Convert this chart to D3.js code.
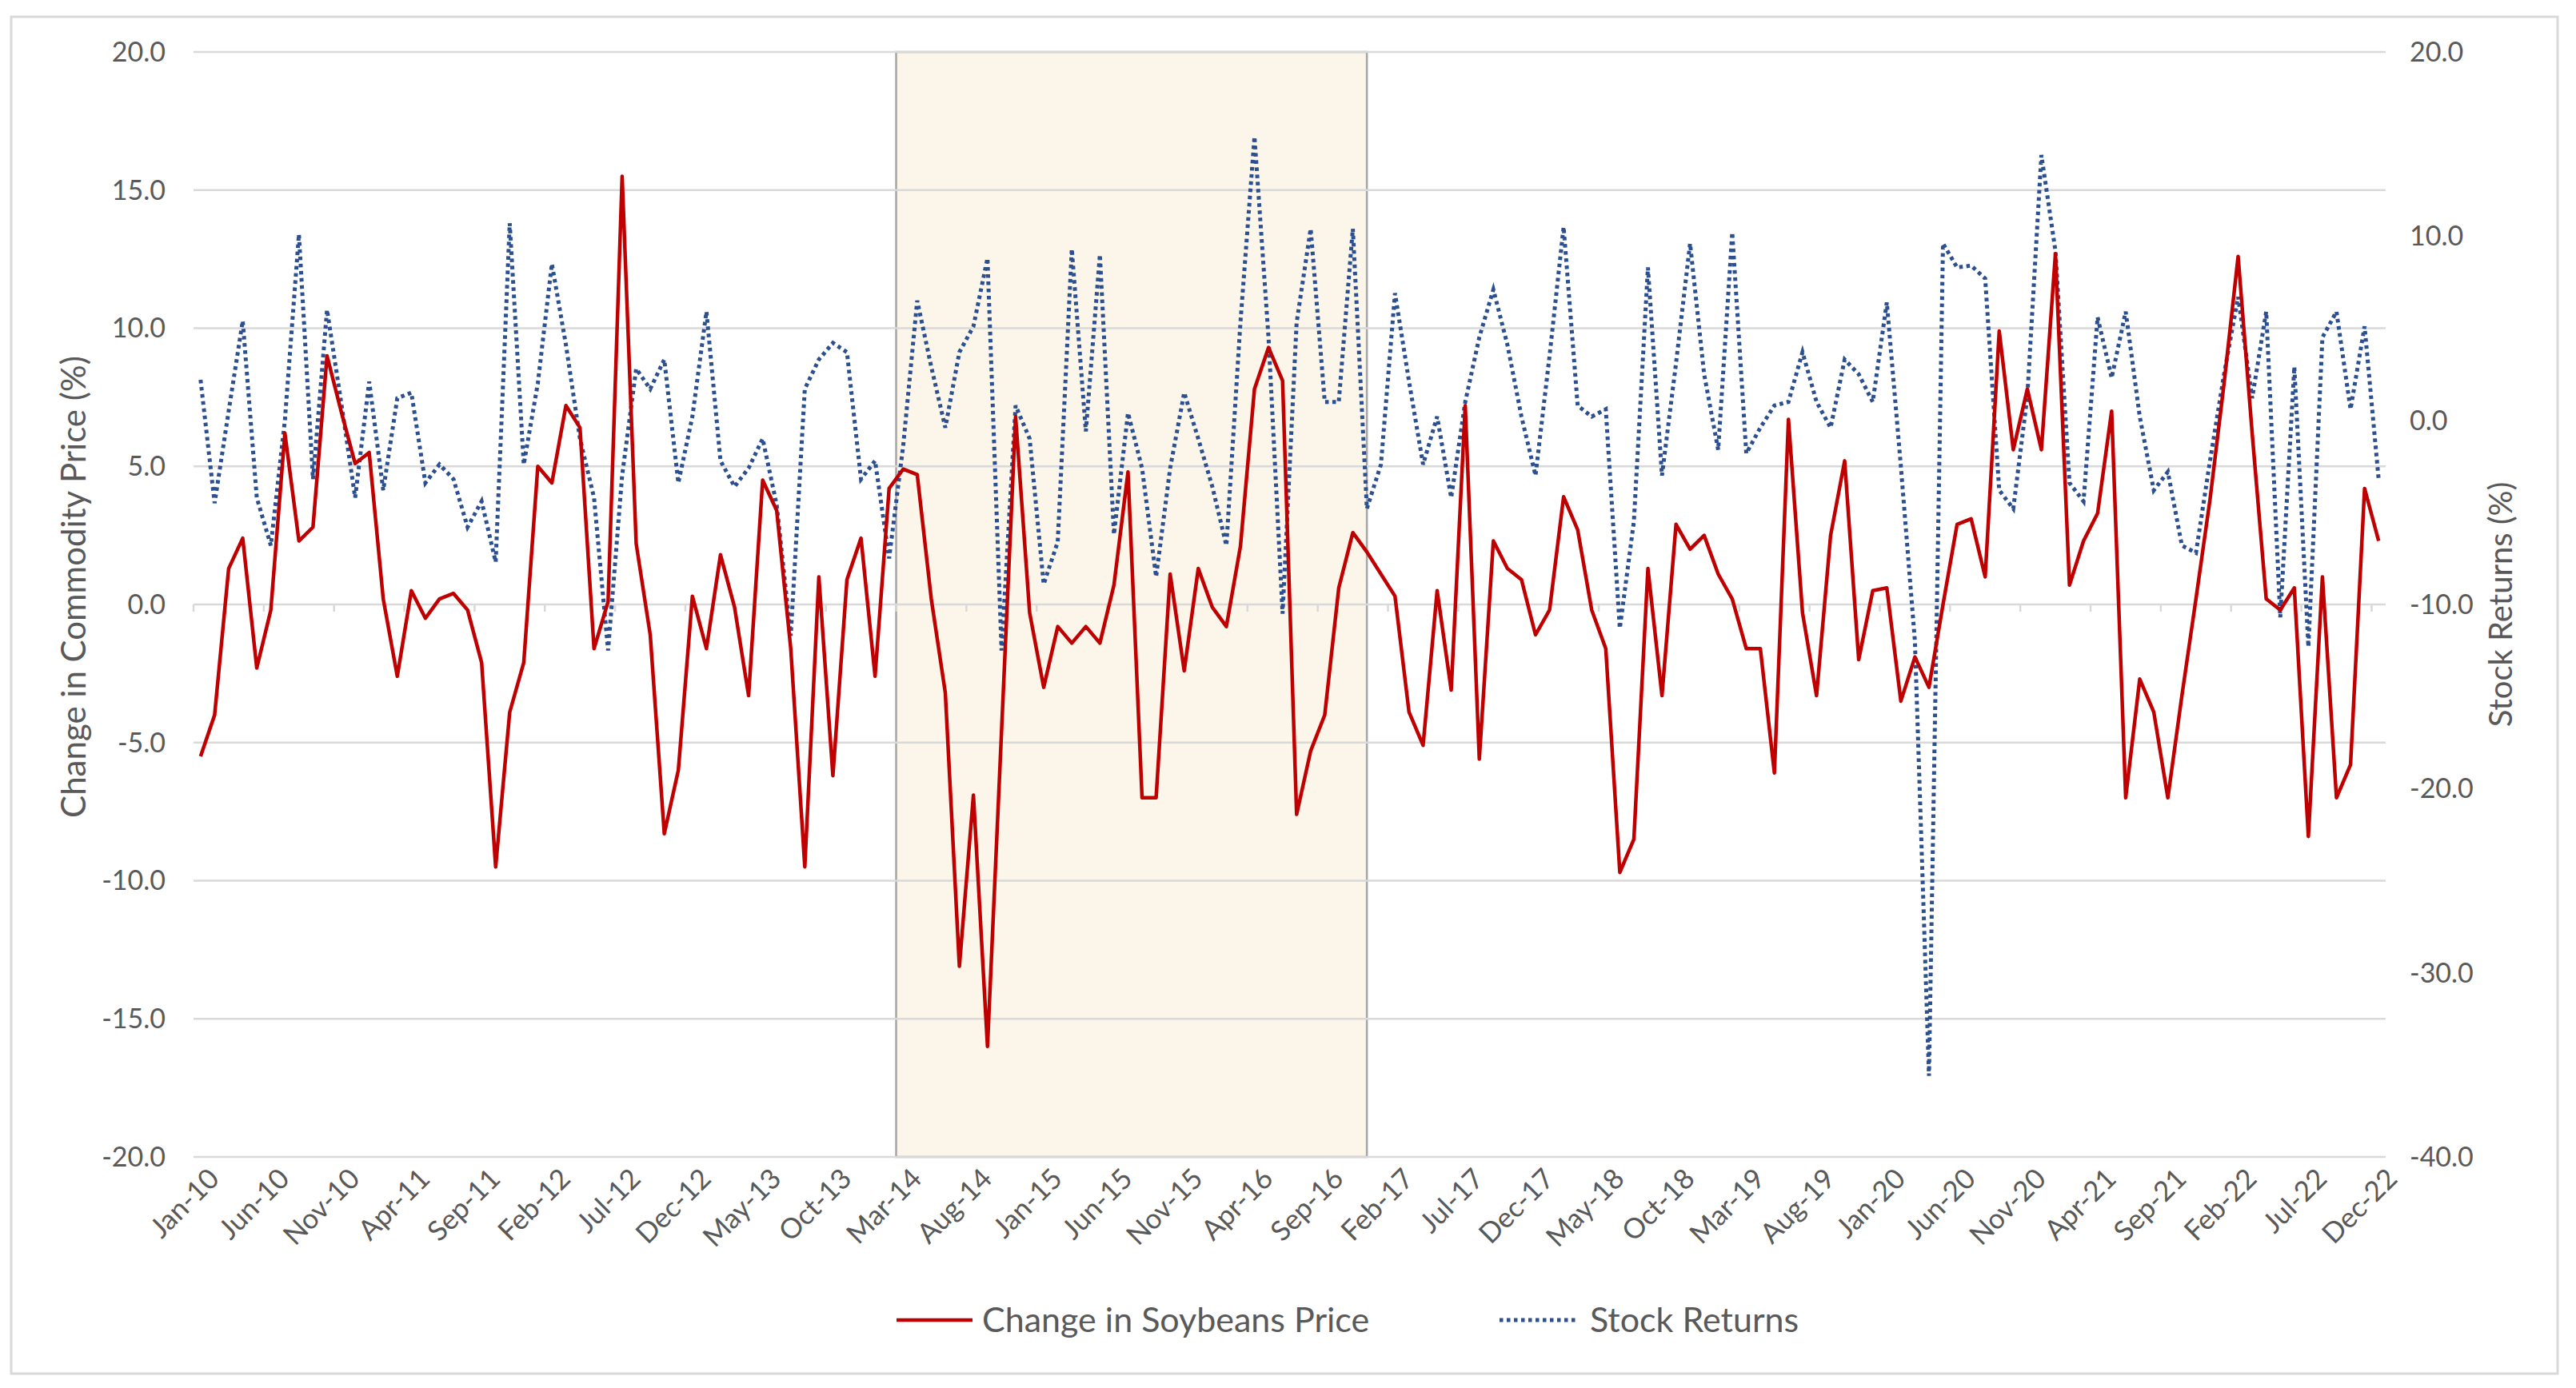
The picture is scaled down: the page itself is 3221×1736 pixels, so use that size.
<!DOCTYPE html>
<html>
<head>
<meta charset="utf-8">
<script src="https://cdn.jsdelivr.net/npm/d3@7"></script>
<style>
  body { margin: 0; background: #fff; }
  text { font-family: Lato, "Open Sans", sans-serif; }
</style>
</head>
<body>
<div id="chart"></div>
<script>
const monthNames = ["Jan", "Feb", "Mar", "Apr", "May", "Jun", "Jul", "Aug", "Sep", "Oct", "Nov", "Dec"];
const years = ["10", "11", "12", "13", "14", "15", "16", "17", "18", "19", "20", "21", "22"];

// monthly change in soybeans price (%), left axis
const soybeanChange = [
  -5.5, -4.0, 1.3, 2.4, -2.3, -0.2, 6.2, 2.3, 2.8, 9.0, 7.0, 5.1,
  5.5, 0.2, -2.6, 0.5, -0.5, 0.2, 0.4, -0.2, -2.1, -9.5, -3.9, -2.1,
  5.0, 4.4, 7.2, 6.4, -1.6, 0.1, 15.5, 2.2, -1.1, -8.3, -6.0, 0.3,
  -1.6, 1.8, -0.1, -3.3, 4.5, 3.4, -1.6, -9.5, 1.0, -6.2, 0.9, 2.4,
  -2.6, 4.2, 4.9, 4.7, 0.2, -3.2, -13.1, -6.9, -16.0, -4.6, 6.8, -0.3,
  -3.0, -0.8, -1.4, -0.8, -1.4, 0.7, 4.8, -7.0, -7.0, 1.1, -2.4, 1.3,
  -0.1, -0.8, 2.1, 7.8, 9.3, 8.1, -7.6, -5.3, -4.0, 0.6, 2.6, 1.9,
  1.1, 0.3, -3.9, -5.1, 0.5, -3.1, 7.2, -5.6, 2.3, 1.3, 0.9, -1.1,
  -0.2, 3.9, 2.7, -0.2, -1.6, -9.7, -8.5, 1.3, -3.3, 2.9, 2.0, 2.5,
  1.1, 0.2, -1.6, -1.6, -6.1, 6.7, -0.3, -3.3, 2.5, 5.2, -2.0, 0.5,
  0.6, -3.5, -1.9, -3.0, 0.0, 2.9, 3.1, 1.0, 9.9, 5.6, 7.8, 5.6,
  12.7, 0.7, 2.3, 3.3, 7.0, -7.0, -2.7, -3.9, -7.0, -3.3, 0.2, 3.8,
  8.0, 12.6, 6.2, 0.2, -0.2, 0.6, -8.4, 1.0, -7.0, -5.8, 4.2, 2.3
];

// monthly stock returns (%), right axis
const stockReturns = [
  2.2, -4.5, 0.5, 5.4, -4.2, -6.8, 0.0, 10.1, -3.2, 6.0, 1.0, -4.2,
  2.1, -3.8, 1.2, 1.5, -3.4, -2.4, -3.2, -5.8, -4.4, -7.7, 10.7, -2.4,
  2.0, 8.5, 4.1, -1.0, -4.2, -12.5, -3.0, 2.8, 1.7, 3.3, -3.4, 0.2,
  5.9, -2.2, -3.6, -2.6, -1.0, -4.6, -11.7, 1.7, 3.3, 4.2, 3.7, -3.2,
  -2.2, -7.5, -1.4, 6.5, 2.9, -0.4, 3.7, 5.1, 8.8, -12.5, 0.8, -1.0,
  -8.9, -6.6, 9.3, -0.6, 9.0, -6.2, 0.4, -2.6, -8.5, -2.6, 1.5, -1.0,
  -3.6, -6.8, 5.3, 15.4, 4.5, -10.5, 5.3, 10.4, 1.0, 1.0, 10.4, -4.8,
  -2.4, 6.9, 2.1, -2.4, 0.2, -4.2, 1.0, 4.5, 7.1, 4.1, 0.2, -3.0,
  3.5, 10.5, 0.8, 0.2, 0.6, -11.3, -5.5, 8.3, -3.0, 3.1, 9.6, 2.5,
  -1.6, 10.2, -1.8, -0.4, 0.8, 1.0, 3.7, 1.0, -0.4, 3.3, 2.5, 1.0,
  6.4, -2.5, -12.0, -35.6, 9.6, 8.3, 8.4, 7.7, -3.8, -4.8, 1.3, 14.4,
  9.2, -3.4, -4.4, 5.6, 2.3, 5.9, 0.2, -3.8, -2.8, -6.8, -7.2, -2.2,
  2.5, 6.7, 1.2, 5.9, -10.7, 2.9, -12.3, 4.5, 5.9, 0.6, 5.1, -3.2
];

const leftTicks = [20, 15, 10, 5, 0, -5, -10, -15, -20];
const rightTicks = [20, 10, 0, -10, -20, -30, -40];
const shadeStart = "Mar-14";
const shadeEnd = "Dec-16";

const months = [];
years.forEach(y => monthNames.forEach(m => months.push(m + "-" + y)));
const labelMonths = months.filter((d, i) => i % 5 === 0);

const W = 3221, H = 1736;
const plot = { left: 242, right: 2983, top: 65, bottom: 1447 };

const svg = d3.select("#chart").append("svg")
  .attr("width", W)
  .attr("height", H);

svg.append("rect")
  .attr("x", 14).attr("y", 21)
  .attr("width", 3184).attr("height", 1697)
  .attr("fill", "#fff")
  .attr("stroke", "#d9d9d9")
  .attr("stroke-width", 3);

const x = d3.scaleBand().domain(months).range([plot.left, plot.right]);
const cx = d => x(d) + x.bandwidth() / 2;
const yL = d3.scaleLinear().domain([-20, 20]).range([plot.bottom, plot.top]);
const yR = d3.scaleLinear().domain([-40, 20]).range([plot.bottom, plot.top]);

// shaded period
const sx0 = x(shadeStart);
const sx1 = cx(shadeEnd);
svg.append("rect")
  .attr("x", sx0).attr("y", plot.top)
  .attr("width", sx1 - sx0).attr("height", plot.bottom - plot.top)
  .attr("fill", "#fbf5ea")
  .attr("stroke", "#a6a6a6")
  .attr("stroke-width", 2.5);

// gridlines
svg.append("g")
  .selectAll("line")
  .data(leftTicks)
  .enter().append("line")
  .attr("x1", plot.left).attr("x2", plot.right)
  .attr("y1", d => yL(d)).attr("y2", d => yL(d))
  .attr("stroke", "#d9d9d9")
  .attr("stroke-width", 2.5);

// category tick marks on the zero line
const tickIdx = d3.range(0, months.length + 1, 5);
svg.append("g")
  .selectAll("line")
  .data(tickIdx)
  .enter().append("line")
  .attr("x1", i => plot.left + i * x.step())
  .attr("x2", i => plot.left + i * x.step())
  .attr("y1", yL(0)).attr("y2", yL(0) + 9)
  .attr("stroke", "#d9d9d9")
  .attr("stroke-width", 2.5);

// left axis labels
svg.append("g")
  .selectAll("text")
  .data(leftTicks)
  .enter().append("text")
  .attr("x", 207)
  .attr("y", d => yL(d))
  .attr("dy", "0.35em")
  .attr("text-anchor", "end")
  .attr("fill", "#595959")
  .style("font-size", "34px")
  .text(d => d.toFixed(1));

// right axis labels
svg.append("g")
  .selectAll("text")
  .data(rightTicks)
  .enter().append("text")
  .attr("x", 3013)
  .attr("y", d => yR(d))
  .attr("dy", "0.35em")
  .attr("text-anchor", "start")
  .attr("fill", "#595959")
  .style("font-size", "34px")
  .text(d => d.toFixed(1));

// category labels
svg.append("g")
  .selectAll("text")
  .data(labelMonths)
  .enter().append("text")
  .attr("transform", d => `translate(${cx(d) + 8},${plot.bottom + 12}) rotate(-45)`)
  .attr("text-anchor", "end")
  .attr("dy", "0.7em")
  .attr("fill", "#595959")
  .style("font-size", "35px")
  .text(d => d);

// axis titles
svg.append("text")
  .attr("transform", `translate(92,734) rotate(-90)`)
  .attr("text-anchor", "middle")
  .attr("dy", "0.35em")
  .attr("fill", "#595959")
  .style("font-size", "42px")
  .text("Change in Commodity Price (%)");

svg.append("text")
  .attr("transform", `translate(3127,${(plot.top + plot.bottom) / 2}) rotate(-90)`)
  .attr("text-anchor", "middle")
  .attr("dy", "0.35em")
  .attr("fill", "#595959")
  .style("font-size", "40px")
  .text("Stock Returns (%)");

// series
const lineL = d3.line().x((d, i) => cx(months[i])).y(d => yL(d));
const lineR = d3.line().x((d, i) => cx(months[i])).y(d => yR(d));

svg.append("path")
  .datum(stockReturns)
  .attr("fill", "none")
  .attr("stroke", "#2c4f8f")
  .attr("stroke-width", 5)
  .attr("stroke-dasharray", "4.5,4.5")
  .attr("d", lineR);

svg.append("path")
  .datum(soybeanChange)
  .attr("fill", "none")
  .attr("stroke", "#c00000")
  .attr("stroke-width", 4.5)
  .attr("stroke-linejoin", "round")
  .attr("d", lineL);

// legend
const legend = svg.append("g").attr("transform", "translate(0,1651)");
legend.append("line")
  .attr("x1", 1121).attr("x2", 1216)
  .attr("stroke", "#c00000").attr("stroke-width", 4.5);
legend.append("text")
  .attr("x", 1228).attr("dy", "0.35em")
  .attr("fill", "#595959")
  .style("font-size", "43px")
  .text("Change in Soybeans Price");
legend.append("line")
  .attr("x1", 1875).attr("x2", 1972)
  .attr("stroke", "#2c4f8f").attr("stroke-width", 5)
  .attr("stroke-dasharray", "4.5,4.5");
legend.append("text")
  .attr("x", 1988).attr("dy", "0.35em")
  .attr("fill", "#595959")
  .style("font-size", "43px")
  .text("Stock Returns");
</script>
</body>
</html>
